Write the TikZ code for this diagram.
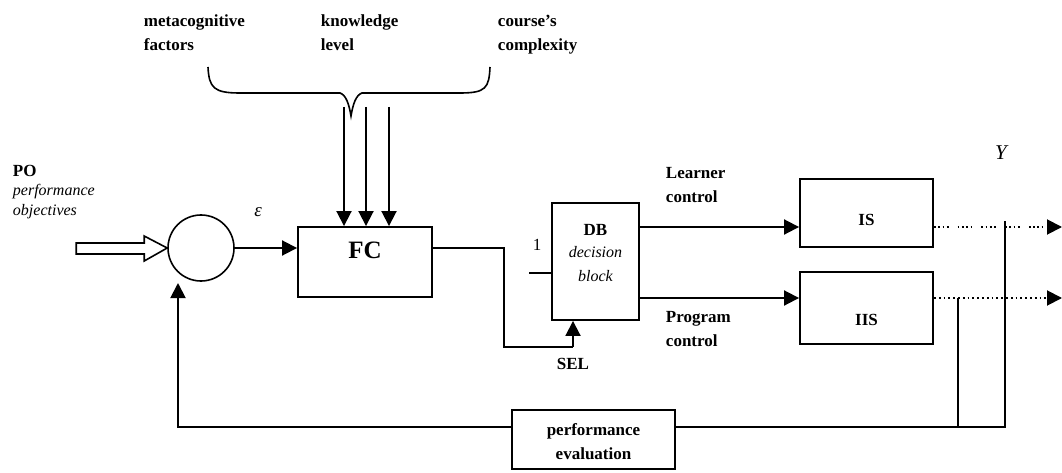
\documentclass[tikz,border=0pt]{standalone}
\usepackage{fontspec}
\setmainfont{Liberation Serif}
\usetikzlibrary{arrows.meta}
\begin{document}
\begin{tikzpicture}[x=1pt,y=-1pt,
  line width=1.9pt,
  box/.style={draw, line width=1.9pt, inner sep=0pt},
  lbl/.style={font=\fontsize{17}{24}\selectfont\bfseries, align=left, inner sep=0pt},
  clbl/.style={font=\fontsize{17}{24}\selectfont\bfseries, align=center, inner sep=0pt},
  ilbl/.style={font=\fontsize{16}{20}\selectfont\itshape, align=left, inner sep=0pt},
  tip/.style={-{Triangle[length=15pt,width=15pt]}},
  grp/.style={line width=2pt, dash pattern=on 1.8pt off 2.5pt on 1.8pt off 2.5pt on 1.8pt off 2.5pt on 1.8pt off 9pt},
  dotl/.style={line width=2pt, dash pattern=on 1.8pt off 3pt},
]
\useasboundingbox (0,0) rectangle (1062,473);
\fill[white] (0,0) rectangle (1062,473);

% top labels
\node[lbl, anchor=north west] (meta) at (143,14) {metacognitive\\factors};
\node[lbl, anchor=north west] (know) at (320,14) {knowledge\\level};
\node[lbl, anchor=north west] (cplx) at (497,14) {course's\\complexity};

% brace
\coordinate (bl) at (208,67);
\coordinate (br) at (490,67);
\coordinate (bt) at (351,116);
\draw[line width=1.6pt] (bl) .. controls (209,88) and (214,93) .. (240,93) -- (340,93)
  .. controls (346,95) and (349,104) .. (bt) .. controls (353,104) and (356,95) .. (362,93)
  -- (460,93) .. controls (486,93) and (489,88) .. (br);

% PO
\node[lbl, anchor=west] (po) at (12,171) {PO};
\node[ilbl, anchor=north west] (poo) at (12,183) {performance\\objectives};

% sum and FC
\node[draw, circle, minimum size=66pt, inner sep=0pt, line width=1.6pt] (sum) at (201,248) {};
\node[font=\fontsize{19}{20}\selectfont\itshape, inner sep=0pt] (eps) at (258,212) {ε};
\node[box, minimum width=134pt, minimum height=70pt] (FC) at (365,262) {};
\node[font=\fontsize{25}{25}\selectfont\bfseries, inner sep=0pt] (fct) at (365,250) {FC};

% hollow input arrow
\draw[line width=1.6pt] (sum.west) -- ++(-23,-12) -- ++(0,7) -- ++(-68,0) -- ++(0,11)
  -- ++(68,0) -- ++(0,7) -- cycle;

\draw[tip] (sum.east) -- (FC.west |- sum.east);

% three inputs
\coordinate (k1) at (344,107);
\coordinate (k2) at (366,107);
\coordinate (k3) at (389,107);
\draw[tip] (k1) -- (k1 |- FC.north);
\draw[tip] (k2) -- (k2 |- FC.north);
\draw[tip] (k3) -- (k3 |- FC.north);

% DB
\node[box, minimum width=87pt, minimum height=117pt] (DB) at (595.5,261.5) {};
\node[clbl] (dbt) at (595.5,230) {DB};
\node[font=\fontsize{16}{24}\selectfont\itshape, align=center, inner sep=0pt] (dbd) at (595.5,264) {decision\\block};
\node[font=\fontsize{17}{17}\selectfont, inner sep=0pt] (one) at (537,245) {1};
\coordinate (onel) at (529,273);
\draw (onel) -- (onel -| DB.west);

% FC output to SEL
\coordinate (sel) at (573,347);
\draw (FC.east |- sum.east) -- (504,248) |- (sel);
\draw[tip] (sel) -- (sel |- DB.south);
\node[clbl] (selt) at (573,364) {SEL};

% IS, IIS
\node[box, minimum width=133pt, minimum height=68pt] (IS) at (866.5,213) {};
\node[clbl] (ist) at (866.5,220) {IS};
\node[box, minimum width=133pt, minimum height=72pt] (IIS) at (866.5,308) {};
\node[clbl] (iist) at (866.5,320) {IIS};

\coordinate (lc) at (639,227);
\coordinate (pc) at (639,298);
\draw[tip] (DB.east |- lc) -- (IS.west |- lc);
\draw[tip] (DB.east |- pc) -- (IIS.west |- pc);
\node[lbl, anchor=west] (lct) at (665,185) {Learner\\control};
\node[lbl, anchor=west] (pct) at (665,329) {Program\\control};

% outputs
\coordinate (oa) at (1062,227);
\coordinate (ob) at (1062,298);
\draw[grp] (IS.east |- lc) -- (1049,227);
\draw[tip] (1048,227) -- (oa);
\draw[dotl] (IIS.east |- pc) -- (1049,298);
\draw[tip] (1048,298) -- (ob);
\node[font=\fontsize{21}{21}\selectfont\itshape, inner sep=0pt] (Y) at (1001,153) {Y};

% feedback
\node[box, minimum width=163pt, minimum height=59pt] (PE) at (593.5,439.5) {};
\node[clbl] (pet) at (593.5,442) {performance\\evaluation};
\coordinate (v1t) at (1005,221);
\coordinate (v2t) at (958,298);
\coordinate (fb) at (1005,427);
\draw (v1t) -- (fb) -- (PE.east |- fb);
\draw (v2t) -- (v2t |- fb);
\coordinate (fbl) at (178,427);
\draw[tip] (PE.west |- fb) -- (fbl) -- (178,283);
\end{tikzpicture}
\end{document}
